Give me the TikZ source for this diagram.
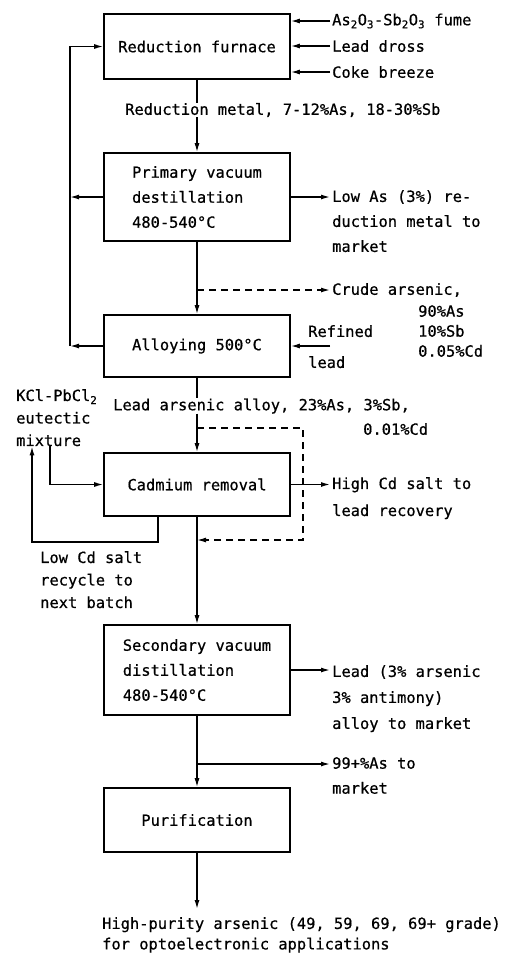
\documentclass[tikz,border=0pt]{standalone}
\usepackage{fontspec}
\setmainfont{DejaVu Sans Mono}[FakeBold=0.6]
\usetikzlibrary{arrows.meta}
\begin{document}
\begin{tikzpicture}[x=1pt, y=-1pt, >={Latex[length=9pt,width=5pt]},
  stage/.style={draw, line width=1.6pt, minimum width=186pt, align=left,
    inner sep=0pt, font=\fontsize{15.4}{25}\selectfont},
  lbl/.style={inner xsep=2pt, inner ysep=0pt, align=left,
    font=\fontsize{15.4}{22.5}\selectfont},
  flow/.style={line width=1.4pt},
  dflow/.style={flow, dash pattern=on 7pt off 5pt}]

\useasboundingbox (0,0) rectangle (504,959);

\def\fsz{15.4}

%--- Stages ---
\node[stage, minimum height=65pt] (furnace) at (197,46.5) {Reduction furnace};
\node[stage, minimum height=88pt] (primary) at (197,197) {Primary vacuum\\destillation\\480-540°C};
\node[stage, minimum height=62pt] (alloy) at (197,346) {Alloying 500°C};
\node[stage, minimum height=63pt] (cadmium) at (197,484.5) {Cadmium removal};
\node[stage, minimum height=90pt] (secondary) at (197,670) {Secondary vacuum\\distillation\\480-540°C};
\node[stage, minimum height=64pt] (purif) at (197,820) {Purification};

%--- Furnace feeds ---
\node[lbl, anchor=west] (fume) at (330,21)
  {As\textsubscript{2}O\textsubscript{3}-Sb\textsubscript{2}O\textsubscript{3} fume};
\node[lbl, anchor=west] (dross) at (330,46) {Lead dross};
\node[lbl, anchor=west] (coke) at (330,72) {Coke breeze};
\foreach \src in {fume,dross,coke}
  \draw[flow,->] (\src.west) -- (\src.west -| furnace.east);

%--- Reduction metal ---
\node[lbl, anchor=west] (redmetal) at (123,110) {Reduction metal, 7-12\%As, 18-30\%Sb};
\draw[flow] (furnace.south) -- (redmetal.north -| furnace.south);
\draw[flow,->] (redmetal.south -| furnace.south) -- (primary.north);

%--- Primary distillation outputs ---
\node[lbl, anchor=north west, font=\fontsize{\fsz}{25}\selectfont] (lowas) at (330,190)
  {Low As (3\%) re-\\duction metal to\\market};
\draw[flow,->] (primary.east) -- (primary.east -| lowas.west);

\coordinate (crudebr) at (197,290);
\node[lbl, anchor=west] (crude) at (330,290) {Crude arsenic,};
\node[lbl, anchor=north west, font=\fontsize{\fsz}{20}\selectfont] (crudemix) at (416,305)
  {90\%As\\10\%Sb\\0.05\%Cd};
\draw[flow,->] (primary.south) -- (alloy.north);
\draw[dflow,->] (crudebr) -- (crudebr -| crude.west);

%--- Recycle to furnace ---
\coordinate (recyc) at (70,346);
\draw[flow,->] (primary.west) -- (primary.west -| recyc);
\draw[flow,->] (alloy.west) -- (recyc);
\draw[flow,->] (recyc) |- (furnace.west);

%--- Refined lead ---
\node[lbl, anchor=north west, font=\fontsize{\fsz}{31}\selectfont] (reflead) at (306,325)
  {Refined\\lead};
\coordinate (refin) at (330,346);
\draw[flow,->] (refin) -- (alloy.east);

%--- Lead arsenic alloy ---
\node[lbl, anchor=west] (alloylbl) at (111,406) {Lead arsenic alloy, 23\%As, 3\%Sb,};
\node[lbl, anchor=west] (alloycd) at (361,429) {0.01\%Cd};
\draw[flow] (alloy.south) -- (alloylbl.north -| alloy.south);
\draw[flow,->] (alloylbl.south -| alloy.south) -- (cadmium.north);

\coordinate (loopa) at (197,428);
\coordinate (loopb) at (303,540);
\coordinate (loopc) at (197,540);
\draw[dflow,->] (loopa) -| (loopb) -- (loopc);

%--- Cadmium removal ---
\node[lbl, anchor=north west, font=\fontsize{\fsz}{27}\selectfont] (highcd) at (330,477)
  {High Cd salt to\\lead recovery};
\draw[flow,->] (cadmium.east) -- (cadmium.east -| highcd.west);

\node[lbl, anchor=north west] (kcl) at (14,389) {KCl-PbCl\textsubscript{2}\\eutectic\\mixture};
\draw[flow,->] ([xshift=36pt]kcl.south west) |- (cadmium.west);

\coordinate (lowturn) at (32,542);
\node[lbl, anchor=north west] (lowcd) at (38,551) {Low Cd salt\\recycle to\\next batch};
\draw[flow,->] ([xshift=-39pt]cadmium.south) |- (lowturn) -- (lowturn |- kcl.south);

\draw[flow,->] (cadmium.south) -- (secondary.north);

%--- Secondary distillation ---
\node[lbl, anchor=north west, font=\fontsize{\fsz}{26}\selectfont] (leadal) at (330,665)
  {Lead (3\% arsenic\\3\% antimony)\\alloy to market};
\draw[flow,->] (secondary.east) -- (secondary.east -| leadal.west);

\coordinate (asbr) at (197,764);
\node[lbl, anchor=north west, font=\fontsize{\fsz}{25}\selectfont] (asmkt) at (330,757)
  {99+\%As to\\market};
\draw[flow,->] (secondary.south) -- (purif.north);
\draw[flow,->] (asbr) -- (asbr -| asmkt.west);

%--- Product ---
\node[lbl, anchor=north west, font=\fontsize{\fsz}{20.5}\selectfont] (product) at (100,917)
  {High-purity arsenic (49, 59, 69, 69+ grade)\\for optoelectronic applications};
\draw[flow,->, shorten >=8pt] (purif.south) -- (product.north -| purif.south);

\end{tikzpicture}
\end{document}
